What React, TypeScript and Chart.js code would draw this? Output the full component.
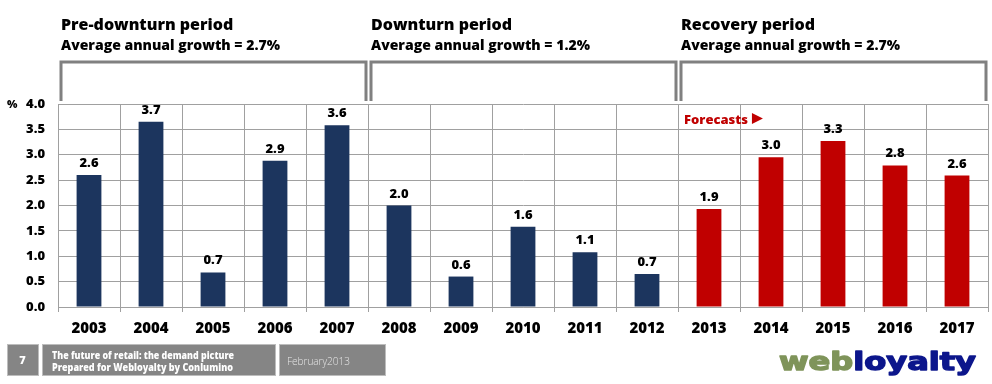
import React, { useEffect, useRef } from 'react';
import { Chart, registerables } from 'chart.js';

Chart.register(...registerables);

const years = ['2003', '2004', '2005', '2006', '2007', '2008', '2009', '2010', '2011', '2012', '2013', '2014', '2015', '2016', '2017'];
const growth = [2.6, 3.65, 0.68, 2.88, 3.58, 2.0, 0.6, 1.58, 1.08, 0.65, 1.93, 2.95, 3.27, 2.79, 2.59];
const valueLabels = ['2.6', '3.7', '0.7', '2.9', '3.6', '2.0', '0.6', '1.6', '1.1', '0.7', '1.9', '3.0', '3.3', '2.8', '2.6'];
const forecastStart = 10;

const periodTitles = ['Pre-downturn period', 'Downturn period', 'Recovery period'];
const periodGrowth = ['2.7%', '1.2%', '2.7%'];
const periodFirst = [0, 5, 10];
const periodLast = [4, 9, 14];

const footerPage = '7';
const footerLines = ['The future of retail: the demand picture', 'Prepared for Webloyalty by Conlumino'];
const footerDate = 'February2013';

const NAVY = '#1c355e';
const RED = '#c00000';
const GRID = '#a0a0a0';
const FONT = '"Open Sans", "DejaVu Sans", sans-serif';

function fitText(ctx: any, text: string, x: number, y: number, width: number) {
  const w = ctx.measureText(text).width;
  ctx.save();
  ctx.translate(x, y);
  ctx.scale(width / w, 1);
  ctx.fillText(text, 0, 0);
  ctx.restore();
}

const overlay = {
  id: 'overlay',
  beforeDraw(chart: any) {
    const ctx = chart.ctx;
    ctx.save();
    ctx.fillStyle = '#ffffff';
    ctx.fillRect(0, 0, chart.width, chart.height);
    ctx.restore();
  },
  afterDatasetsDraw(chart: any) {
    const ctx = chart.ctx;
    const meta = chart.getDatasetMeta(0);
    ctx.save();
    ctx.fillStyle = '#000';
    ctx.font = `800 13px ${FONT}`;
    ctx.textAlign = 'center';
    ctx.textBaseline = 'alphabetic';
    meta.data.forEach((bar: any, i: number) => {
      ctx.fillText(valueLabels[i], bar.x, bar.y - 8);
    });
    ctx.restore();
  },
  afterDraw(chart: any) {
    const ctx = chart.ctx;
    const x = chart.scales.x;
    const half = (x.getPixelForValue(1) - x.getPixelForValue(0)) / 2;
    ctx.save();
    ctx.textBaseline = 'alphabetic';
    // headers and brackets
    periodTitles.forEach((t, i) => {
      const l = x.getPixelForValue(periodFirst[i]) - half + 3;
      const r = x.getPixelForValue(periodLast[i]) + half - 2;
      ctx.fillStyle = '#000';
      ctx.textAlign = 'left';
      ctx.font = `800 16px ${FONT}`;
      ctx.fillText(t, l, 29.5);
      ctx.font = `800 14px ${FONT}`;
      ctx.fillText('Average annual growth = ' + periodGrowth[i], l, 50);
      ctx.strokeStyle = '#808080';
      ctx.lineWidth = 3;
      ctx.beginPath();
      ctx.moveTo(l, 101);
      ctx.lineTo(l, 62);
      ctx.lineTo(r, 62);
      ctx.lineTo(r, 101);
      ctx.stroke();
    });
    // % unit
    ctx.fillStyle = '#000';
    ctx.font = `800 11px ${FONT}`;
    ctx.textAlign = 'left';
    ctx.fillText('%', 7, 108);
    // forecasts
    const fx = x.getPixelForValue(forecastStart) - half + 6;
    ctx.fillStyle = RED;
    ctx.font = `800 13px ${FONT}`;
    ctx.fillText('Forecasts', fx, 124);
    const tw = ctx.measureText('Forecasts').width;
    ctx.beginPath();
    ctx.moveTo(fx + tw + 4, 113);
    ctx.lineTo(fx + tw + 15, 118.5);
    ctx.lineTo(fx + tw + 4, 124);
    ctx.closePath();
    ctx.fill();
    // footer boxes
    const boxes = [[7, 32], [42, 234], [279, 107]];
    boxes.forEach(([bx, bw]) => {
      ctx.fillStyle = '#858585';
      ctx.fillRect(bx, 344, bw, 32);
      ctx.strokeStyle = '#bdbdbd';
      ctx.lineWidth = 1;
      ctx.strokeRect(bx + 0.5, 344.5, bw - 1, 31);
    });
    ctx.fillStyle = '#ffffff';
    ctx.font = `800 11px ${FONT}`;
    ctx.textAlign = 'center';
    ctx.fillText(footerPage, 22.5, 364);
    ctx.textAlign = 'left';
    ctx.font = `800 10.5px ${FONT}`;
    fitText(ctx, footerLines[0], 52, 359, 182);
    fitText(ctx, footerLines[1], 52, 371, 181);
    ctx.fillStyle = '#e6e6e6';
    ctx.font = `300 11px ${FONT}`;
    fitText(ctx, footerDate, 287, 365, 63);
    // logo
    ctx.save();
    ctx.font = `bold 25px "DejaVu Sans", sans-serif`;
    const w1 = ctx.measureText('web').width;
    const w2 = ctx.measureText('loyalty').width;
    const sx = 197 / (w1 + w2);
    ctx.translate(779, 370);
    ctx.scale(sx, 1);
    ctx.lineWidth = 1.4;
    ctx.lineJoin = 'round';
    ctx.fillStyle = '#7f945a';
    ctx.strokeStyle = '#7f945a';
    ctx.fillText('web', 0, 0);
    ctx.strokeText('web', 0, 0);
    ctx.fillStyle = '#0c168c';
    ctx.strokeStyle = '#0c168c';
    ctx.fillText('loyalty', w1, 0);
    ctx.strokeText('loyalty', w1, 0);
    ctx.restore();
    ctx.restore();
  },
};

export default function App() {
  const ref = useRef<HTMLCanvasElement>(null);
  useEffect(() => {
    if (!ref.current) return;
    const chart = new Chart(ref.current, {
      type: 'bar',
      data: {
        labels: years,
        datasets: [
          {
            data: growth,
            backgroundColor: growth.map((_, i) => (i >= forecastStart ? RED : NAVY)),
            barPercentage: 0.4,
            categoryPercentage: 1,
          },
        ],
      },
      options: {
        animation: false,
        responsive: false,
        maintainAspectRatio: false,
        layout: { padding: { top: 104, right: 4, bottom: 0, left: 0 } },
        plugins: { legend: { display: false }, tooltip: { enabled: false } },
        scales: {
          x: {
            grid: { color: GRID, offset: true, tickLength: 5, lineWidth: 1 },
            border: { color: GRID },
            ticks: { color: '#000', font: { family: FONT, size: 15, weight: 800 }, padding: 8, maxRotation: 0 },
            afterFit: (s: any) => { s.height = 77; },
          },
          y: {
            min: 0,
            max: 4,
            grid: { color: GRID, drawTicks: false },
            border: { color: GRID },
            ticks: {
              stepSize: 0.5,
              color: '#000',
              padding: 13,
              font: { family: FONT, size: 13, weight: 800 },
              callback: (v: any) => Number(v).toFixed(1),
            },
            afterFit: (s: any) => { s.width = 58; },
          },
        },
      },
      plugins: [overlay],
    });
    return () => chart.destroy();
  }, []);
  return (
    <div style={{ position: 'fixed', left: 0, top: 0, width: 992, height: 384 }}>
      <canvas ref={ref} width={992} height={384} style={{ display: 'block' }} />
    </div>
  );
}
